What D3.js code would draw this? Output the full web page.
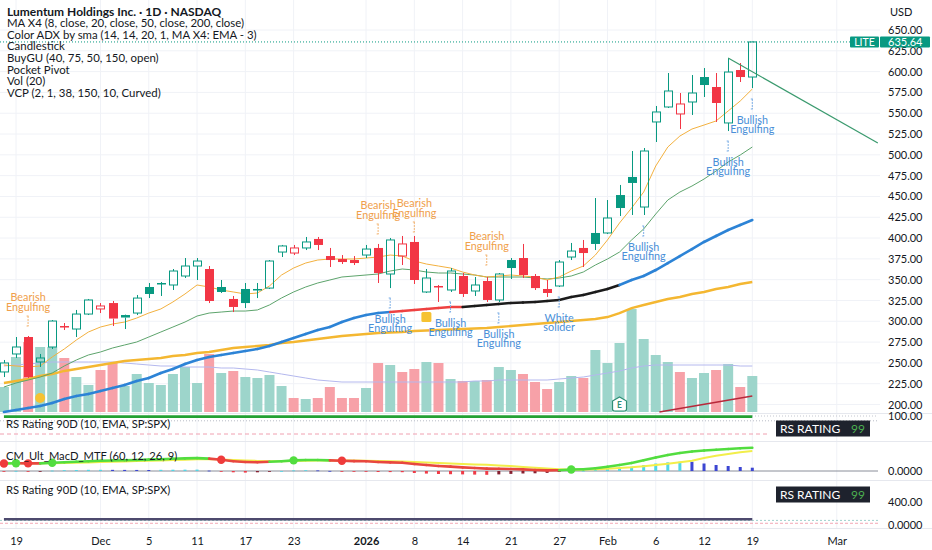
<!DOCTYPE html>
<html><head><meta charset="utf-8">
<script src="https://cdn.jsdelivr.net/npm/d3@7"></script>
<style>
body{margin:0;background:#fff}
svg{display:block}
text{font-family:Lato,"Noto Sans",sans-serif}
</style></head>
<body><svg id="c" width="932" height="550"></svg>
<script>
// ---------------- DATA ----------------
const dates = ["Nov 18","Nov 19","Nov 20","Nov 21","Nov 24","Nov 25","Nov 26","Nov 28","Dec 1","Dec 2","Dec 3","Dec 4","Dec 5","Dec 8","Dec 9","Dec 10","Dec 11","Dec 12","Dec 15","Dec 16","Dec 17","Dec 18","Dec 19","Dec 22","Dec 23","Dec 24","Dec 26","Dec 29","Dec 30","Dec 31","Jan 2","Jan 5","Jan 6","Jan 7","Jan 8","Jan 9","Jan 12","Jan 13","Jan 14","Jan 15","Jan 16","Jan 20","Jan 21","Jan 22","Jan 23","Jan 26","Jan 27","Jan 28","Jan 29","Jan 30","Feb 2","Feb 3","Feb 4","Feb 5","Feb 6","Feb 9","Feb 10","Feb 11","Feb 12","Feb 13","Feb 17","Feb 18","Feb 19"];
const open  = [239.1,260.7,281.1,251.1,269.1,294.3,290.7,308.7,314.8,321.9,307.5,309.9,341.2,346.0,343.6,354.4,366.4,362.8,341.2,326.8,338.8,338.8,339.9,383.2,382.0,388.1,398.9,378.4,374.8,373.6,379.6,388.1,356.8,378.4,395.3,335.2,342.4,337.6,354.4,336.4,348.4,325.6,373.6,376.0,354.4,338.8,342.4,377.2,388.1,406.1,406.1,451.7,473.4,437.3,539.5,557.5,549.1,563.5,593.5,581.5,538.3,601.9,593.5];
const high  = [253.5,281.1,282.3,260.7,301.5,297.9,313.6,326.8,321.9,324.4,308.0,331.6,346.0,347.2,362.8,376.0,376.0,366.4,349.6,330.4,346.0,346.0,373.6,391.7,391.7,401.3,401.3,388.1,379.6,378.4,391.7,392.9,400.1,402.5,402.5,362.8,343.6,364.0,358.0,353.2,353.2,358.0,376.0,392.9,356.8,349.6,373.6,394.1,397.7,448.1,445.7,463.8,504.6,508.2,558.7,598.3,574.3,595.9,604.3,598.3,616.4,610.3,636.0];
const low   = [233.0,255.9,231.8,245.1,266.7,289.5,281.1,307.5,309.9,294.3,290.7,307.5,327.9,330.4,337.6,352.0,349.6,321.9,334.0,311.1,315.9,327.9,338.8,377.2,379.6,385.6,385.6,365.2,368.8,367.6,376.0,346.0,339.9,367.6,344.8,334.0,323.2,335.2,329.2,330.4,323.2,323.2,350.8,352.0,337.6,329.2,341.2,373.6,365.2,385.6,404.9,426.5,427.7,427.7,515.4,556.3,531.0,547.9,569.5,539.5,528.6,587.5,580.3];
const close = [249.9,269.1,233.0,255.9,300.3,293.1,308.7,325.6,318.4,303.3,304.5,327.9,332.8,344.8,360.4,366.4,372.4,324.4,335.2,317.2,321.9,337.6,372.4,390.5,388.1,395.3,391.7,373.6,371.2,370.0,386.8,358.0,397.7,392.9,349.6,352.0,341.2,360.4,332.8,343.6,325.6,356.8,364.0,355.6,339.9,334.0,371.2,384.4,382.0,392.9,424.1,436.1,466.2,504.6,551.5,576.7,561.1,574.3,583.9,562.3,599.5,593.5,635.64];
const volume = [2.5,5.5,7.0,6.5,6.5,5.4,3.5,2.7,4.2,4.9,2.6,3.8,2.9,2.7,3.8,4.5,2.9,5.8,3.9,4.1,3.5,3.4,3.7,2.6,1.4,1.3,1.4,2.5,1.4,1.4,2.4,4.9,4.7,4.0,4.3,5.0,4.9,3.3,3.1,3.1,3.2,4.5,4.2,3.8,3.0,2.3,3.0,3.6,3.4,6.2,4.9,6.9,10.3,7.3,5.7,5.0,4.0,3.4,3.9,4.2,4.8,2.5,3.6];
const volMA = [4.6,4.7,4.8,4.9,5.0,5.0,5.0,5.0,5.0,5.0,4.9,4.8,4.7,4.6,4.6,4.5,4.5,4.5,4.4,4.4,4.3,4.2,4.0,3.8,3.6,3.4,3.2,3.1,3.0,3.0,3.0,3.0,3.0,3.0,3.0,3.0,3.0,3.0,3.0,3.1,3.1,3.2,3.2,3.2,3.2,3.2,3.3,3.4,3.5,3.7,3.9,4.1,4.4,4.6,4.7,4.7,4.7,4.7,4.7,4.7,4.7,4.6,4.6];
const ma8 = [247.5,246.3,245.1,246.3,257.1,266.7,277.5,287.1,293.1,296.7,299.1,303.9,309.9,314.8,323.2,332.8,343.6,341.2,337.6,335.2,332.8,334.0,342.4,355.6,364.0,370.0,373.6,374.8,374.8,374.8,376.0,377.2,379.6,378.4,372.4,368.8,366.4,364.0,359.2,355.6,353.2,354.4,355.6,354.4,353.2,349.6,353.2,360.4,366.4,379.6,397.7,418.1,436.1,455.3,486.6,509.4,522.6,531.0,535.8,540.7,552.7,564.7,579.1];
const ma20 = [221.0,225.8,229.4,233.0,237.8,246.3,253.5,259.5,263.1,267.9,271.5,275.1,281.1,287.1,293.1,299.1,306.3,309.9,311.1,312.3,312.3,313.6,319.6,328.0,335.2,341.2,346.0,349.6,353.2,354.4,355.6,356.8,360.4,362.8,361.6,359.2,358.0,358.0,356.8,355.6,353.2,353.2,353.2,353.2,352.0,350.8,352.0,354.4,359.2,367.6,374.8,383.2,397.7,410.9,428.9,445.7,455.3,462.5,470.9,480.6,491.4,499.8,509.4];
const ma50 = [191.0,193.4,195.8,198.2,201.8,206.6,210.2,212.6,216.2,219.8,223.4,228.2,231.8,237.8,242.6,248.7,253.5,257.1,259.5,261.9,264.3,266.7,270.3,275.1,279.9,284.7,289.5,293.1,299.1,303.9,307.5,309.9,311.1,312.3,313.6,314.8,316.0,317.2,317.2,318.4,319.6,320.8,322.0,322.6,323.2,324.4,325.6,329.2,331.6,335.2,338.8,343.6,349.6,354.4,361.6,370.0,378.4,386.8,395.3,402.5,409.7,415.7,421.7];
const ma50State = ["up","up","up","up","up","up","up","up","up","up","up","up","up","up","up","up","up","up","up","up","up","up","up","up","up","up","up","up","up","up","up","up","up","weak","weak","weak","weak","weak","weak","flat","flat","flat","flat","flat","flat","flat","flat","flat","flat","flat","flat","flat","up","up","up","up","up","up","up","up","up","up","up"];
const ma200 = [225.8,228.2,230.6,234.2,236.6,240.3,242.7,245.1,247.5,249.9,252.3,253.5,254.7,255.9,258.3,259.5,261.9,263.1,265.5,267.9,269.1,270.3,271.5,273.9,275.1,276.9,278.7,280.5,282.3,283.5,284.7,285.9,286.5,287.1,288.3,288.9,289.5,290.1,290.7,291.3,291.9,293.1,294.3,295.5,296.7,297.9,299.1,300.3,301.5,302.7,305.1,309.9,315.9,319.6,323.2,326.8,329.2,332.8,335.2,338.8,341.2,344.8,347.2];
const macd = [15,15.6,15.2,15.2,16.4,17.6,18.6,19.6,20.4,21,21.4,22,22.8,23.6,24.4,25.2,25.8,24.8,22.4,19.6,18,17.6,18.4,19.6,21.2,22,22,21.2,20.4,19.8,19.4,18,17.2,16.4,14,12,10,8.8,7.2,6,4.8,4.4,4,3.2,2,1.2,1.6,3,3.6,5.6,8.4,12,16,21.6,27,32,36,39,41,42.6,44,45.4,46.6];
const signal = [15.6,15.4,15.6,15.4,15.6,16,16.6,17.2,18,18.6,19.2,19.8,20.4,21,21.8,22.6,23.4,24,23.2,22.2,21.2,20.2,19.6,19.6,20,20.4,20.8,21,21,20.8,20.4,20,19.4,18.8,18,17.2,16,15.2,14,13.2,12.4,11.2,9.8,8.2,6.6,5,3.6,2.6,3,3.6,4.4,5.8,7.4,9.6,12,14.6,17.4,20.6,26,30.6,34,37.4,40];
const hist = [-0.6,0.2,-0.4,-0.2,0.8,1.6,2,2.4,2.4,2.3,2.2,2.1,2.0,2.4,2.6,2.7,2.8,0.8,-0.8,-2.6,-3.2,-2.6,-1.2,0,1.2,1.6,1.2,0.2,-0.6,-1,-1,-2,-2.2,-2.4,-4,-5.2,-6,-6.4,-6.8,-7.2,-7.6,-6.8,-5.8,-5,-4.6,-3.8,-2,0.4,0.6,2,4,6.2,8.6,12,15,17.4,18.6,18.4,15,12,10,8,6.6];
const crossUp = [1,4,24,47];
const crossDown = [0,2,18,28];
const rs1 = [99,99,99,99,99,99,99,99,99,99,99,99,99,99,99,99,99,99,99,99,99,99,99,99,99,99,99,99,99,99,99,99,99,99,99,99,99,99,99,99,99,99,99,99,99,99,99,99,99,99,99,99,99,99,99,99,99,99,99,99,99,99,99];
const rs2 = [99,99,99,99,99,99,99,99,99,99,99,99,99,99,99,99,99,99,99,99,99,99,99,99,99,99,99,99,99,99,99,99,99,99,99,99,99,99,99,99,99,99,99,99,99,99,99,99,99,99,99,99,99,99,99,99,99,99,99,99,99,99,99];
const rsLevels1 = [92, 70];
const rsLevels2 = [80, 30];
const patterns = [
  {i:2,  name:["Bearish","Engulfing"], dir:"bear", price:294.3},
  {i:31, name:["Bearish","Engulfing"], dir:"bear", price:404.9},
  {i:34, name:["Bearish","Engulfing"], dir:"bear", price:407.3},
  {i:40, name:["Bearish","Engulfing"], dir:"bear", price:367.6},
  {i:32, name:["Bullish","Engulfing"], dir:"bull", price:328.0},
  {i:37, name:["Bullish","Engulfing"], dir:"bull", price:323.2},
  {i:41, name:["Bullish","Engulfing"], dir:"bull", price:310.0},
  {i:46, name:["White","solider"],     dir:"bull", price:329.2},
  {i:53, name:["Bullish","Engulfing"], dir:"bull", price:414.5},
  {i:60, name:["Bullish","Engulfing"], dir:"bull", price:516.6},
  {i:62, name:["Bullish","Engulfing"], dir:"bull", price:567.1}
];
const pivots = [{i:3, price:207.8, round:true},{i:35, price:305.1, round:false}];
const earningsIdx = 51;
const vcpLine = [{i:60, price:616.4},{i:72.4, price:514.2}];
const volTrend = [{i:54.3, v:0},{i:62, v:1.6}];
const lastPrice = 635.64;
const priceTicks = [200,225,250,275,300,325,350,375,400,425,450,475,500,525,550,575,600,625,650];
const timeTickIdx = [1,8,12,16,20,24,30,34,38,42,46,50,54,58,62,69];
const timeTickLabels = ["19","Dec","5","11","17","23","2026","8","14","21","27","Feb","6","12","19","Mar"];
const legendLines = ["Lumentum Holdings Inc. · 1D · NASDAQ","MA X4 (8, close, 20, close, 50, close, 200, close)","Color ADX by sma (14, 14, 20, 1, MA X4: EMA - 3)","Candlestick","BuyGU (40, 75, 50, 150, open)","Pocket Pivot","Vol (20)","VCP (2, 1, 38, 150, 10, Curved)"];

// ---------------- STYLE ----------------
const GREEN="#089981", RED="#f23645", TXT="#131722", GRID="#f0f2f7";
const plotR = 880, W = 932;
const svg = d3.select("#c");
const x = d3.scaleLinear().domain([0,62]).range([3.93,752.3]);
const y = d3.scaleLinear().domain([200,650]).range([404.5,30]);
const yV = d3.scaleLinear().domain([0,10.3]).range([412,309]);
const yRs1 = d3.scaleLinear().domain([70,100]).range([434,416]);
const yM = d3.scaleLinear().domain([0,48]).range([471,447]);
const yRs2 = d3.scaleLinear().domain([0,400]).range([525,502]);
const idx = d3.range(close.length);

// grid
const g = svg.append("g");
g.selectAll("line.vg").data(timeTickIdx).join("line")
  .attr("x1",d=>x(d)).attr("x2",d=>x(d)).attr("y1",0).attr("y2",528)
  .attr("stroke",GRID).attr("stroke-width",1);
g.selectAll("line.hg").data(priceTicks).join("line")
  .attr("x1",0).attr("x2",plotR).attr("y1",d=>y(d)).attr("y2",d=>y(d))
  .attr("stroke",GRID);
[413.5,441.5,480.5,528.5].forEach(v=>g.append("line").attr("x1",0).attr("x2",W).attr("y1",v).attr("y2",v).attr("stroke","#e6e8ee"));

// volume
const upDay = i => i===0 ? close[i]>=open[i] : close[i]>=close[i-1];
svg.append("g").selectAll("rect").data(idx).join("rect")
  .attr("x",i=>x(i)-5).attr("width",10)
  .attr("y",i=>yV(volume[i])).attr("height",i=>yV(0)-yV(volume[i]))
  .attr("fill",i=>upDay(i)?"#9dd5cb":"#f7a1a8");
svg.append("path").datum(idx)
  .attr("d",d3.line().x(i=>x(i)).y(i=>yV(volMA[i])))
  .attr("fill","none").attr("stroke","#b4b8ee").attr("stroke-width",1);
svg.append("path").datum(volTrend)
  .attr("d",d3.line().x(d=>x(d.i)).y(d=>yV(d.v)))
  .attr("stroke","#b8283a").attr("stroke-width",1.5);
// earnings badge
{
  const ex=x(earningsIdx);
  svg.append("path")
    .attr("d",`M${ex-7},401 L${ex},397 L${ex+7},401 L${ex+7},409 Q${ex+7},411 ${ex+5},411 L${ex-5},411 Q${ex-7},411 ${ex-7},409 Z`)
    .attr("fill","#fff").attr("stroke","#2f8f76").attr("stroke-width",1.2);
  svg.append("text").attr("x",ex).attr("y",408).attr("text-anchor","middle")
    .attr("font-size",8.5).attr("font-weight","bold").attr("fill","#2f8f76").text("E");
}

// moving averages
const lineP = arr => d3.line().x(i=>x(i)).y(i=>y(arr[i]));
svg.append("path").datum(idx).attr("d",lineP(ma200)).attr("fill","none").attr("stroke","#f4b731").attr("stroke-width",2.4);
const stateColor = {up:"#2c83d6", weak:"#ee4141", flat:"#1b1b1b"};
svg.append("g").selectAll("path").data(idx.slice(1)).join("path")
  .attr("d",i=>d3.line()([[x(i-1),y(ma50[i-1])],[x(i),y(ma50[i])]]))
  .attr("stroke",i=>stateColor[ma50State[i]]).attr("stroke-width",2.6).attr("stroke-linecap","round").attr("fill","none");
svg.append("path").datum(idx).attr("d",lineP(ma20)).attr("fill","none").attr("stroke","#5da46c").attr("stroke-width",1);
svg.append("path").datum(idx).attr("d",lineP(ma8)).attr("fill","none").attr("stroke","#f3b13f").attr("stroke-width",1);

// candles
const cg = svg.append("g");
idx.forEach(i=>{
  const col = upDay(i)?GREEN:RED;
  const hollow = close[i]>open[i];
  const cx = Math.round(x(i))+0.5;
  const top = y(Math.max(open[i],close[i])), bot = y(Math.min(open[i],close[i]));
  cg.append("line").attr("x1",cx).attr("x2",cx).attr("y1",y(high[i])).attr("y2",top).attr("stroke",col);
  cg.append("line").attr("x1",cx).attr("x2",cx).attr("y1",bot).attr("y2",y(low[i])).attr("stroke",col);
  if(hollow){
    cg.append("rect").attr("x",cx-4).attr("width",8).attr("y",top).attr("height",Math.max(1,bot-top))
      .attr("fill","none").attr("stroke",col).attr("stroke-width",1);
  } else {
    cg.append("rect").attr("x",cx-4.5).attr("width",9).attr("y",top).attr("height",Math.max(1.5,bot-top))
      .attr("fill",col);
  }
});

// pocket pivots
svg.append("g").selectAll("rect").data(pivots).join("rect")
  .attr("x",d=>x(d.i)-5).attr("y",d=>y(d.price)-5).attr("width",10).attr("height",10)
  .attr("rx",d=>d.round?5:1.5).attr("fill","#f6c232");

// VCP trendline
svg.append("path").datum(vcpLine).attr("d",d3.line().x(d=>x(d.i)).y(d=>y(d.price)))
  .attr("stroke","#3a9a6e").attr("stroke-width",1.2).attr("fill","none");

// pattern labels
const pg = svg.append("g").attr("font-size",10.8).attr("text-anchor","middle");
patterns.forEach(p=>{
  const px = x(p.i), py = y(p.price);
  const col = p.dir==="bear"?"#f0a04b":"#4a8fd8";
  const acol = p.dir==="bear"?"#f3b574":"#7fb0e6";
  const a1 = p.dir==="bear"?py-10:py, a2 = p.dir==="bear"?py:py+10;
  pg.append("line").attr("x1",px).attr("x2",px).attr("y1",a1).attr("y2",a2).attr("stroke",acol).attr("stroke-width",1).attr("stroke-dasharray","2,1");
  pg.append("line").attr("x1",px-1.5).attr("x2",px+0.5).attr("y1",a1).attr("y2",a1).attr("stroke",acol);
  pg.append("line").attr("x1",px-1.5).attr("x2",px+0.5).attr("y1",a2).attr("y2",a2).attr("stroke",acol);
  const l1 = p.dir==="bear"?py-28.5:py+21, l2 = p.dir==="bear"?py-19:py+30.5;
  pg.append("text").attr("x",px).attr("y",l1+3.8).attr("fill",col).text(p.name[0]);
  pg.append("text").attr("x",px).attr("y",l2+3.8).attr("fill",col).text(p.name[1]);
});

// last price line
svg.append("line").attr("x1",0).attr("x2",850).attr("y1",y(lastPrice)).attr("y2",y(lastPrice))
  .attr("stroke",GREEN).attr("stroke-dasharray","1,2").attr("stroke-width",1);

// legend
const lg = svg.append("g").attr("fill",TXT);
legendLines.forEach((t,k)=>{
  lg.append("text").attr("x",7).attr("y",15.5+k*11.6)
    .attr("font-size",k===0?12:11.4).attr("font-weight",k===0?"bold":"normal").text(t);
});

// ---- RS pane 1
svg.append("g").selectAll("line").data(rsLevels1).join("line")
  .attr("x1",0).attr("x2",(d,k)=>k===0?878:770).attr("y1",d=>yRs1(d)).attr("y2",d=>yRs1(d))
  .attr("stroke",(d,k)=>k===0?"#b8bcc6":"#f0a0b0").attr("stroke-dasharray",(d,k)=>k===0?"1,2":"4,3");
svg.append("line").attr("x1",752).attr("x2",878).attr("y1",yRs1(100)).attr("y2",yRs1(100)).attr("stroke","#c4c7cf").attr("stroke-dasharray","1,2");
svg.append("path").datum(idx).attr("d",d3.line().x(i=>x(i)).y(i=>yRs1(rs1[i])))
  .attr("fill","none").attr("stroke","#23a133").attr("stroke-width",2.6);
svg.append("text").attr("x",6).attr("y",428).attr("font-size",11.2).attr("fill",TXT).text("RS Rating 90D (10, EMA, SP:SPX)");

function rsBox(yTop){
  svg.append("rect").attr("x",776).attr("y",yTop).attr("width",94).attr("height",16).attr("fill","#1e222d");
  svg.append("text").attr("x",780).attr("y",yTop+12.5).attr("font-size",12).attr("fill","#fff").text("RS RATING");
  svg.append("text").attr("x",851).attr("y",yTop+12.5).attr("font-size",12).attr("fill","#4caf50").text("99");
}
rsBox(420.5);

// ---- MACD pane
svg.append("line").attr("x1",0).attr("x2",878).attr("y1",yM(0)).attr("y2",yM(0)).attr("stroke","#8a8e99").attr("stroke-width",1);
svg.append("g").selectAll("rect").data(idx).join("rect")
  .attr("x",i=>x(i)-1.5).attr("width",3)
  .attr("y",i=>Math.min(yM(0),yM(hist[i]))).attr("height",i=>Math.max(0.8,Math.abs(yM(hist[i])-yM(0))))
  .attr("fill",i=>{
    const h=hist[i], pv=i>0?hist[i-1]:h;
    if(h>=0) return h>=pv?"#52d7e6":"#3c46d2";
    return h<=pv?"#ef3b47":"#862030";
  });
svg.append("path").datum(idx).attr("d",d3.line().x(i=>x(i)).y(i=>yM(signal[i])))
  .attr("fill","none").attr("stroke","#f2ee4a").attr("stroke-width",2);
svg.append("g").selectAll("path").data(idx.slice(1)).join("path")
  .attr("d",i=>d3.line()([[x(i-1),yM(macd[i-1])],[x(i),yM(macd[i])]]))
  .attr("stroke",i=>macd[i]>=signal[i]?"#52dd3f":"#e8473f").attr("stroke-width",2.6)
  .attr("stroke-linecap","round").attr("fill","none");
svg.append("g").selectAll("circle").data(crossUp.map(i=>({i,c:"#52dd3f"})).concat(crossDown.map(i=>({i,c:"#ef3b3b"})))).join("circle")
  .attr("cx",d=>x(d.i)).attr("cy",d=>yM(macd[d.i])).attr("r",4.2).attr("fill",d=>d.c);
svg.append("text").attr("x",6).attr("y",460).attr("font-size",11.2).attr("fill",TXT).text("CM_Ult_MacD_MTF (60, 12, 26, 9)");

// ---- RS pane 2
svg.append("g").selectAll("line").data(rsLevels2).join("line")
  .attr("x1",0).attr("x2",878).attr("y1",d=>yRs2(d)).attr("y2",d=>yRs2(d))
  .attr("stroke",(d,k)=>k===0?"#9fd0cc":"#f2a7b4").attr("stroke-dasharray",(d,k)=>k===0?"2,2":"3,2");
svg.append("path").datum(idx).attr("d",d3.line().x(i=>x(i)).y(i=>yRs2(rs2[i])))
  .attr("fill","none").attr("stroke","#4d4a6e").attr("stroke-width",2.4);
svg.append("text").attr("x",6).attr("y",494).attr("font-size",11.2).attr("fill",TXT).text("RS Rating 90D (10, EMA, SP:SPX)");
rsBox(486.5);

// ---- right axis
const ax = svg.append("g").attr("transform",`translate(${plotR},0)`)
  .call(d3.axisRight(y).tickValues(priceTicks).tickFormat(d3.format(".2f")).tickSize(0).tickPadding(8));
ax.select(".domain").remove();
ax.selectAll("text").attr("font-size",11).attr("fill",TXT).attr("font-family","Lato, 'Noto Sans', sans-serif");
const extraLabels = [[yRs1(100),"100.00"],[yM(0),"0.0000"],[yRs2(400),"400.00"],[yRs2(0),"0.0000"]];
extraLabels.forEach(([yy,t])=>svg.append("text").attr("x",888).attr("y",yy+4).attr("font-size",11).attr("fill",TXT).text(t));
svg.append("text").attr("x",890).attr("y",16).attr("font-size",11).attr("fill",TXT).text("USD");

// price tags
{
  const py=y(lastPrice);
  svg.append("rect").attr("x",850).attr("y",py-5.5).attr("width",29).attr("height",11).attr("rx",1).attr("fill",GREEN);
  svg.append("text").attr("x",864.5).attr("y",py+4).attr("text-anchor","middle").attr("font-size",10.5).attr("fill","#fff").text("LITE");
  svg.append("rect").attr("x",880).attr("y",py-5.5).attr("width",50).attr("height",11).attr("rx",1).attr("fill",GREEN);
  svg.append("text").attr("x",888).attr("y",py+4).attr("font-size",11).attr("fill","#fff").text(lastPrice.toFixed(2));
}

// ---- time axis
const tx = svg.append("g").attr("transform","translate(0,530)")
  .call(d3.axisBottom(x).tickValues(timeTickIdx).tickFormat((d,k)=>timeTickLabels[k]).tickSize(0).tickPadding(7));
tx.select(".domain").remove();
tx.selectAll("text").attr("font-size",11).attr("fill",TXT).attr("font-family","Lato, 'Noto Sans', sans-serif")
  .attr("font-weight",(d,k)=>timeTickLabels[k]==="2026"?"bold":"normal");
</script></body></html>
